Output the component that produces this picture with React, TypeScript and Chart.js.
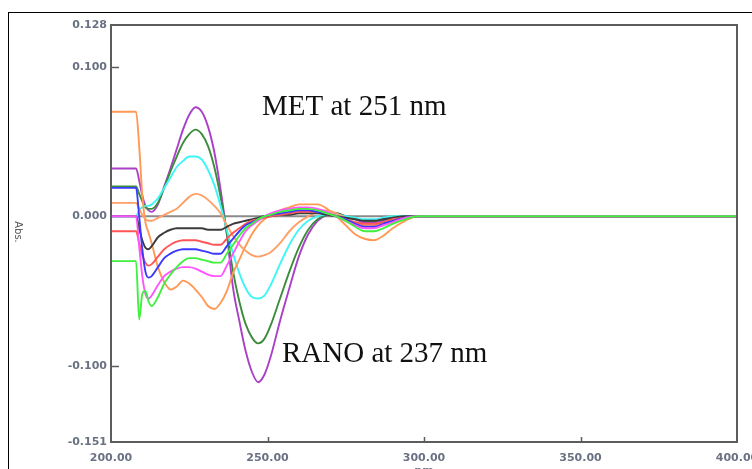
import React, { useEffect, useRef } from "react";
import { Chart, registerables } from "chart.js";

Chart.register(...registerables);

// Wavelength grid (nm)
const wavelengths = [
  200, 208, 209, 210, 211, 212, 213,
  215, 217, 219, 221, 223, 225, 227, 229, 231, 233, 235, 237, 239, 241, 243, 245, 247, 249, 251,
  254, 257, 260, 263, 266, 269, 272, 275, 278, 281, 284, 287, 290,
  294, 298, 400,
];

const purple = [
  0.032, 0.032, 0.024, 0.014, 0.007, 0.004, 0.003,
  0.008, 0.020, 0.032, 0.045, 0.058, 0.068, 0.073, 0.070, 0.060, 0.043, 0.018, -0.012, -0.048, -0.070, -0.090, -0.104, -0.111, -0.106, -0.094,
  -0.070, -0.048, -0.027, -0.012, -0.003, 0.001, 0.002, 0.0, -0.002, -0.004, -0.004, -0.003, -0.002,
  -0.001, 0, 0,
];

const darkGreen = [
  0.020, 0.020, 0.015, 0.010, 0.006, 0.005, 0.005,
  0.009, 0.019, 0.030, 0.040, 0.049, 0.055, 0.058, 0.055, 0.047, 0.033, 0.013, -0.011, -0.037, -0.057, -0.072, -0.081, -0.085, -0.082, -0.073,
  -0.055, -0.037, -0.021, -0.009, -0.002, 0.001, 0.002, 0.0, -0.001, -0.003, -0.003, -0.002, -0.001,
  0, 0, 0,
];

const cyan = [
  0, 0, 0.004, 0.006, 0.007, 0.007, 0.008,
  0.012, 0.019, 0.026, 0.033, 0.037, 0.040, 0.040, 0.038, 0.031, 0.021, 0.007, -0.009, -0.025, -0.038, -0.048, -0.054, -0.055, -0.053, -0.046,
  -0.032, -0.019, -0.009, -0.003, 0.0, 0.001, 0.001, 0.0, -0.001, -0.002, -0.002, -0.001, 0.0,
  0, 0, 0,
];

const orangeA = [
  0.070, 0.070, 0.047, 0.014, -0.004, -0.011, -0.018,
  -0.034, -0.044, -0.049, -0.047, -0.043, -0.045, -0.049, -0.054, -0.060, -0.062, -0.058, -0.050, -0.038, -0.029, -0.020, -0.012, -0.006, -0.002, 0.001,
  0.004, 0.006, 0.008, 0.008, 0.008, 0.005, 0.0, -0.006, -0.012, -0.015, -0.016, -0.013, -0.008,
  -0.003, 0, 0,
];

const orangeB = [
  0.009, 0.009, 0.005, 0.001, -0.002, -0.003, -0.003,
  -0.001, 0.001, 0.003, 0.005, 0.009, 0.013, 0.015, 0.014, 0.011, 0.007, 0.002, -0.006, -0.013, -0.019, -0.023, -0.026, -0.027, -0.026, -0.024,
  -0.018, -0.010, -0.004, 0.0, 0.003, 0.004, 0.002, -0.001, -0.004, -0.006, -0.006, -0.004, -0.002,
  -0.001, 0, 0,
];

const black = [
  0, 0, -0.008, -0.016, -0.021, -0.022, -0.020,
  -0.014, -0.011, -0.009, -0.008, -0.008, -0.008, -0.008, -0.008, -0.009, -0.009, -0.009, -0.007, -0.005, -0.004, -0.003, -0.002, -0.001, 0, 0,
  0.001, 0.001, 0.002, 0.002, 0.002, 0.001, 0, -0.001, -0.002, -0.003, -0.003, -0.002, -0.001,
  0, 0, 0,
];

const red = [
  -0.010, -0.010, -0.018, -0.026, -0.031, -0.033, -0.032,
  -0.027, -0.022, -0.019, -0.017, -0.016, -0.016, -0.016, -0.017, -0.018, -0.019, -0.019, -0.015, -0.011, -0.008, -0.005, -0.003, -0.002, -0.001, 0,
  0.001, 0.002, 0.003, 0.003, 0.003, 0.002, 0, -0.002, -0.004, -0.005, -0.005, -0.004, -0.002,
  -0.001, 0, 0,
];

const blue = [
  0.019, 0.019, 0.0, -0.022, -0.037, -0.041, -0.040,
  -0.034, -0.028, -0.025, -0.023, -0.022, -0.022, -0.022, -0.023, -0.024, -0.025, -0.025, -0.020, -0.015, -0.010, -0.006, -0.004, -0.002, 0, 0.001,
  0.002, 0.003, 0.004, 0.004, 0.003, 0.002, 0, -0.002, -0.005, -0.007, -0.007, -0.005, -0.003,
  -0.001, 0, 0,
];

const lightGreen = [
  -0.030, -0.030, -0.069, -0.052, -0.050, -0.057, -0.060,
  -0.054, -0.045, -0.039, -0.034, -0.030, -0.028, -0.028, -0.029, -0.030, -0.031, -0.031, -0.025, -0.019, -0.013, -0.008, -0.005, -0.002, 0, 0.001,
  0.003, 0.004, 0.005, 0.005, 0.004, 0.002, 0, -0.003, -0.007, -0.010, -0.010, -0.008, -0.005,
  -0.002, 0, 0,
];

const pink = [
  0, 0, -0.020, -0.040, -0.052, -0.055, -0.053,
  -0.046, -0.040, -0.037, -0.035, -0.034, -0.034, -0.035, -0.037, -0.039, -0.040, -0.040, -0.033, -0.025, -0.017, -0.010, -0.006, -0.003, 0, 0.002,
  0.004, 0.005, 0.006, 0.006, 0.005, 0.003, 0, -0.003, -0.006, -0.008, -0.008, -0.006, -0.004,
  -0.001, 0, 0,
];

const baseline = wavelengths.map(() => 0);

const xTicks = [200, 250, 300, 350, 400];
const yTicks = [-0.151, -0.1, 0, 0.1, 0.128];
const xInnerTicks = [250, 300, 350];
const yInnerTicks = [-0.1, 0.1];

const annotationMET = "MET at 251 nm";
const annotationRANO = "RANO at 237 nm";
const yTitle = "Abs.";
const xTitle = "nm";

const tickFont = { family: "DejaVu Sans", size: 11, weight: "bold" as const };
const tickColor = "#6a7182";

const seriesDefs: [number[], string][] = [
  [lightGreen, "#3ff03f"],
  [pink, "#ff55ff"],
  [blue, "#3a3aff"],
  [red, "#ff5555"],
  [black, "#3c3c3c"],
  [orangeB, "#ff9f66"],
  [orangeA, "#ff9955"],
  [cyan, "#3ff5f5"],
  [darkGreen, "#3c8c3c"],
  [purple, "#aa3fc8"],
  [baseline, "#8a8a8a"],
];

const framePlugin = {
  id: "framePlugin",
  afterDraw(chart: any) {
    const { ctx, chartArea: a, scales } = chart;
    ctx.save();
    // outer black frame
    ctx.strokeStyle = "#000";
    ctx.lineWidth = 1;
    ctx.strokeRect(8.5, 12.5, 800, 500);
    // plot frame
    ctx.strokeStyle = "#5c5c5c";
    ctx.lineWidth = 2;
    ctx.strokeRect(a.left, a.top, a.right - a.left, a.bottom - a.top);
    // inner tick marks
    ctx.lineWidth = 1.5;
    ctx.beginPath();
    for (const v of yInnerTicks) {
      const y = Math.round(scales.y.getPixelForValue(v)) + 0.5;
      ctx.moveTo(a.left, y);
      ctx.lineTo(a.left + 8, y);
    }
    for (const v of xInnerTicks) {
      const x = Math.round(scales.x.getPixelForValue(v)) + 0.5;
      ctx.moveTo(x, a.bottom);
      ctx.lineTo(x, a.bottom - 5);
    }
    ctx.stroke();
    // annotations
    ctx.fillStyle = "#111";
    ctx.font = '29px "Liberation Serif"';
    ctx.textAlign = "left";
    ctx.textBaseline = "alphabetic";
    ctx.fillText(annotationMET, 262, 115);
    ctx.fillText(annotationRANO, 282, 362);
    // y title
    ctx.save();
    ctx.translate(18, 232);
    ctx.rotate(Math.PI / 2);
    ctx.font = '10px "DejaVu Sans"';
    ctx.fillStyle = "#555";
    ctx.textAlign = "center";
    ctx.textBaseline = "middle";
    ctx.fillText(yTitle, 0, 0);
    ctx.restore();
    // x title
    ctx.font = 'bold 11px "DejaVu Sans"';
    ctx.fillStyle = tickColor;
    ctx.textAlign = "center";
    ctx.textBaseline = "top";
    ctx.fillText(xTitle, 424, 466);
    ctx.restore();
  },
};

export default function App() {
  const ref = useRef<HTMLCanvasElement | null>(null);
  useEffect(() => {
    if (!ref.current) return;
    const chart = new Chart(ref.current, {
      type: "line",
      data: {
        datasets: seriesDefs.map(([vals, color]) => ({
          data: wavelengths.map((w, i) => ({ x: w, y: vals[i] })),
          borderColor: color,
          borderWidth: 1.9,
          pointRadius: 0,
          fill: false,
          cubicInterpolationMode: "monotone" as const,
        })),
      },
      options: {
        responsive: false,
        animation: false,
        events: [],
        layout: { padding: { top: 25, right: 15, left: 0, bottom: 0 } },
        plugins: { legend: { display: false }, tooltip: { enabled: false } },
        scales: {
          x: {
            type: "linear",
            min: 200,
            max: 400,
            afterBuildTicks: (s: any) => {
              s.ticks = xTicks.map((v) => ({ value: v }));
            },
            afterFit: (s: any) => {
              s.height = 27;
              s.paddingLeft = 0;
              s.paddingRight = 0;
            },
            grid: { display: false, drawTicks: false },
            border: { display: false },
            ticks: {
              font: tickFont,
              color: tickColor,
              padding: 10,
              maxRotation: 0,
              autoSkip: false,
              callback: (v: any) => Number(v).toFixed(2),
            },
          },
          y: {
            type: "linear",
            min: -0.151,
            max: 0.128,
            afterBuildTicks: (s: any) => {
              s.ticks = yTicks.map((v) => ({ value: v }));
            },
            afterFit: (s: any) => {
              s.width = 111;
              s.paddingTop = 0;
              s.paddingBottom = 0;
            },
            grid: { display: false, drawTicks: false },
            border: { display: false },
            ticks: {
              font: tickFont,
              color: tickColor,
              padding: 4,
              autoSkip: false,
              callback: (v: any) => Number(v).toFixed(3),
            },
          },
        },
      },
      plugins: [framePlugin],
    });
    return () => chart.destroy();
  }, []);
  return (
    <div style={{ position: "absolute", left: 0, top: 0, width: 752, height: 469, background: "#fff" }}>
      <canvas ref={ref} width={752} height={469} style={{ width: 752, height: 469, display: "block" }} />
    </div>
  );
}
